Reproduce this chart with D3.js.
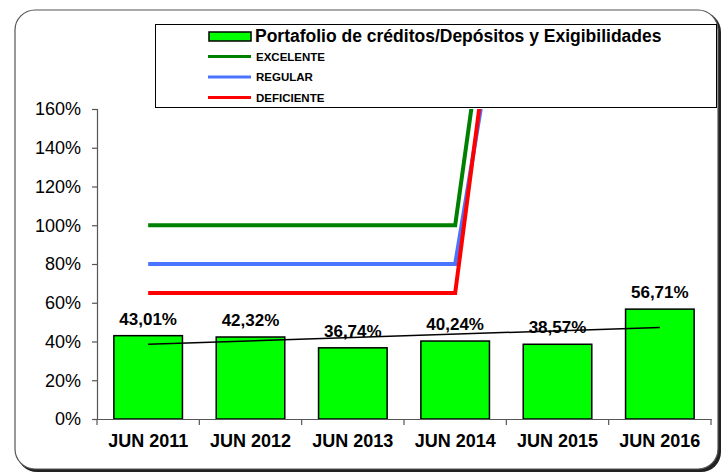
<!DOCTYPE html>
<html>
<head>
<meta charset="utf-8">
<script src="https://cdn.jsdelivr.net/npm/d3@7"></script>
<style>
  body { margin: 0; background: #fff; }
  text { font-family: Arial, "Liberation Sans", sans-serif; }
</style>
</head>
<body>
<div id="chart"></div>
<script>
const categories = ["JUN 2011", "JUN 2012", "JUN 2013", "JUN 2014", "JUN 2015", "JUN 2016"];
const portafolio = [43.01, 42.32, 36.74, 40.24, 38.57, 56.71];
const excelente = [100, 100, 100, 100, 480, 480];
const regular = [80, 80, 80, 80, 400, 400];
const deficiente = [65, 65, 65, 65, 470, 470];
const yTicks = [0, 20, 40, 60, 80, 100, 120, 140, 160];

const seriesName = "Portafolio de créditos/Depósitos y Exigibilidades";
const lines = [
  { name: "EXCELENTE", values: excelente, color: "#008000" },
  { name: "REGULAR", values: regular, color: "#4a74ff" },
  { name: "DEFICIENTE", values: deficiente, color: "#ff0000" }
];

const width = 721, height = 473;
const svg = d3.select("#chart").append("svg")
  .attr("width", width)
  .attr("height", height);

// outer frame with a small shadow
svg.append("rect")
  .attr("x", 17).attr("y", 12)
  .attr("width", 704).attr("height", 460)
  .attr("rx", 20)
  .attr("fill", "#222");
svg.append("rect")
  .attr("x", 15).attr("y", 10)
  .attr("width", 703).attr("height", 459)
  .attr("rx", 20)
  .attr("fill", "#fff")
  .attr("stroke", "#555")
  .attr("stroke-width", 1.2);

const x = d3.scaleBand()
  .domain(categories)
  .range([97, 711])
  .paddingInner(0.33)
  .paddingOuter(0.165);

const y = d3.scaleLinear()
  .domain([0, 160])
  .range([419, 109]);

svg.append("defs").append("clipPath")
  .attr("id", "plot-clip")
  .append("rect")
  .attr("x", 97).attr("y", 109)
  .attr("width", 614).attr("height", 310);

// bars
svg.selectAll(".bar")
  .data(portafolio)
  .enter()
  .append("rect")
  .attr("class", "bar")
  .attr("x", (d, i) => x(categories[i]))
  .attr("y", d => y(d))
  .attr("width", x.bandwidth())
  .attr("height", d => y(0) - y(d))
  .attr("fill", "#00ff00")
  .attr("stroke", "#000")
  .attr("stroke-width", 1.5);

// axes
const xAxis = svg.append("g")
  .attr("transform", `translate(0,${y(0)})`)
  .call(d3.axisBottom(x).tickSize(0).tickPadding(0));
xAxis.select(".domain").attr("stroke", "#555").attr("stroke-width", 1.2);
xAxis.selectAll("text").remove();

// category boundary ticks
const bounds = d3.range(categories.length + 1).map(i => 97 + i * (614 / categories.length));
svg.selectAll(".xtick")
  .data(bounds)
  .enter()
  .append("line")
  .attr("x1", d => d).attr("x2", d => d)
  .attr("y1", y(0)).attr("y2", y(0) + 6)
  .attr("stroke", "#555")
  .attr("stroke-width", 1.2);

svg.selectAll(".xlabel")
  .data(categories)
  .enter()
  .append("text")
  .attr("x", d => x(d) + x.bandwidth() / 2)
  .attr("y", 447)
  .attr("text-anchor", "middle")
  .style("font-size", "18px")
  .style("font-weight", "bold")
  .text(d => d);

const yAxis = svg.append("g")
  .attr("transform", "translate(97,0)")
  .call(d3.axisLeft(y).tickValues(yTicks).tickSize(5).tickPadding(11).tickFormat(d => d + "%"));
yAxis.select(".domain").attr("stroke", "#555").attr("stroke-width", 1.2);
yAxis.selectAll(".tick line").attr("stroke", "#555").attr("stroke-width", 1.2);
yAxis.selectAll("text")
  .style("font-size", "18px")
  .style("font-family", "Arial, 'Liberation Sans', sans-serif")
  .attr("fill", "#000");

// threshold lines
const cx = d => x(d) + x.bandwidth() / 2;
const lineGen = d3.line()
  .x((d, i) => cx(categories[i]))
  .y(d => y(d));

svg.append("g")
  .attr("clip-path", "url(#plot-clip)")
  .selectAll(".threshold")
  .data(lines)
  .enter()
  .append("path")
  .attr("d", d => lineGen(d.values))
  .attr("fill", "none")
  .attr("stroke", d => d.color)
  .attr("stroke-width", 4);

// value labels
svg.selectAll(".vlabel")
  .data(portafolio)
  .enter()
  .append("text")
  .attr("x", (d, i) => cx(categories[i]))
  .attr("y", d => y(d) - 11)
  .attr("text-anchor", "middle")
  .style("font-size", "17px")
  .style("font-weight", "bold")
  .text(d => d.toFixed(2).replace(".", ",") + "%");

// linear trend line
const idx = d3.range(portafolio.length);
const mx = d3.mean(idx), my = d3.mean(portafolio);
const slope = d3.sum(idx, i => (i - mx) * (portafolio[i] - my)) / d3.sum(idx, i => (i - mx) * (i - mx));
const icpt = my - slope * mx;
svg.append("line")
  .attr("x1", cx(categories[0]))
  .attr("y1", y(icpt))
  .attr("x2", cx(categories[categories.length - 1]))
  .attr("y2", y(icpt + slope * (categories.length - 1)))
  .attr("stroke", "#000")
  .attr("stroke-width", 1.5);

// legend
const legend = svg.append("g");
legend.append("rect")
  .attr("x", 155.5).attr("y", 24.5)
  .attr("width", 561).attr("height", 83)
  .attr("fill", "#fff")
  .attr("stroke", "#000")
  .attr("stroke-width", 1);

legend.append("rect")
  .attr("x", 209).attr("y", 32)
  .attr("width", 42).attr("height", 9)
  .attr("fill", "#00ff00")
  .attr("stroke", "#000")
  .attr("stroke-width", 1.5);
legend.append("text")
  .attr("x", 255).attr("y", 42)
  .style("font-size", "17.5px")
  .style("font-weight", "bold")
  .text(seriesName);

const items = legend.selectAll(".item")
  .data(lines)
  .enter()
  .append("g")
  .attr("transform", (d, i) => `translate(0,${56.5 + i * 20.5})`);
items.append("line")
  .attr("x1", 208).attr("x2", 251)
  .attr("y1", 0).attr("y2", 0)
  .attr("stroke", d => d.color)
  .attr("stroke-width", 3);
items.append("text")
  .attr("x", 256).attr("y", 4)
  .style("font-size", "11.5px")
  .style("font-weight", "bold")
  .text(d => d.name);
</script>
</body>
</html>
